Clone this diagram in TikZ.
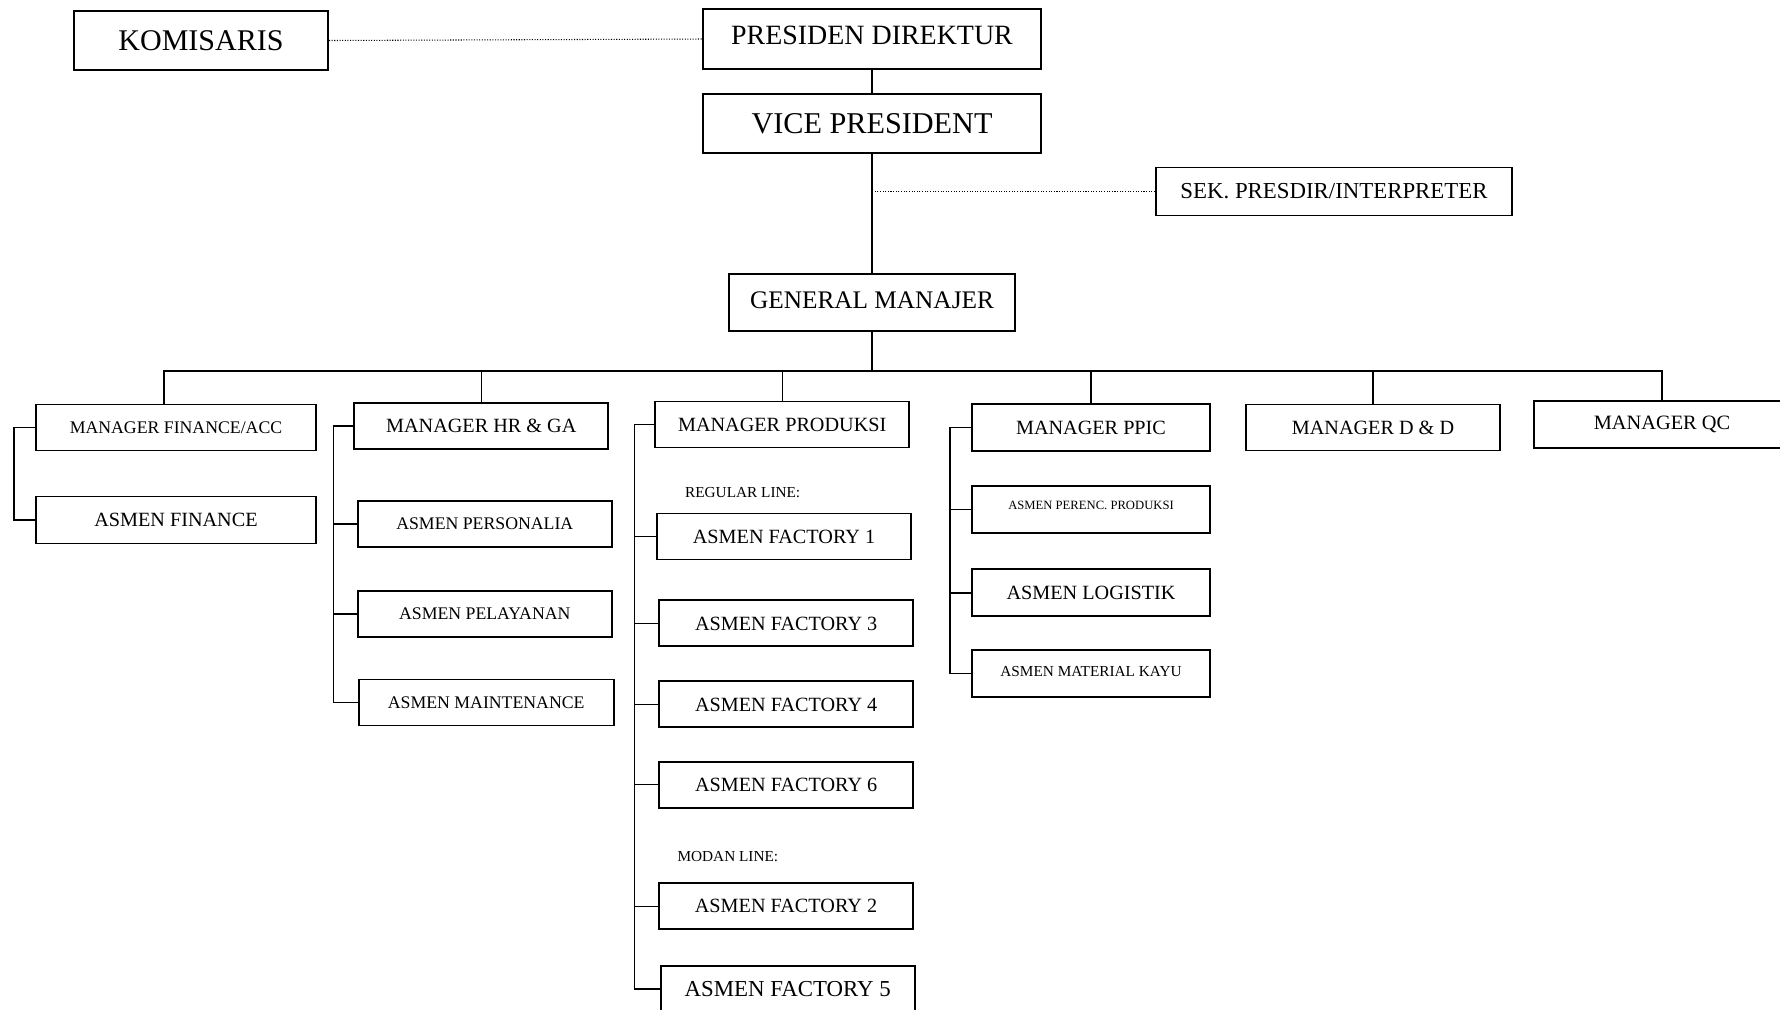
\documentclass[tikz,border=0pt]{standalone}
\usepackage{fontspec}
\setmainfont{Liberation Serif}
\usetikzlibrary{positioning, calc}

\begin{document}
\begin{tikzpicture}[
    x=0.02cm, y=-0.02cm,
    orgblk/.style 2 args={draw, rectangle, line width=1.1pt, inner sep=0pt,
                   minimum width=#1*0.02cm, minimum height=#2*0.02cm},
    fs/.style={font=\fontsize{#1}{#1}\selectfont},
    txtup/.style={text depth=#1*0.04cm},
    lnk/.style={line width=0.75pt},
    dotlnk/.style={line width=0.6pt, dash pattern=on 0.6pt off 0.9pt},
    lbl/.style={anchor=west, inner sep=0pt, font=\fontsize{8.7}{9}\selectfont}
  ]
    \useasboundingbox (0,0) rectangle (1780,1009);
    \clip (0,0) rectangle (1780,1009);

    % top levels
    \node[orgblk={254}{59}, fs=17.1] (kom)  at (201,40.5)   {KOMISARIS};
    \node[orgblk={338}{60}, fs=15.9, txtup=3.5] (pres) at (872,39) {PRESIDEN DIREKTUR};
    \node[orgblk={338}{59}, fs=17.2] (vp)   at (872,123.5)  {VICE PRESIDENT};
    \node[orgblk={356}{48}, fs=13]   (sek)  at (1334,191.5) {SEK. PRESDIR/INTERPRETER};
    \node[orgblk={286}{57}, fs=14.4, txtup=2.3] (gm) at (872,302.3) {GENERAL MANAJER};

    % managers
    \node[orgblk={280}{46}, fs=10.1] (mfin)  at (176,427.5)  {MANAGER FINANCE/ACC};
    \node[orgblk={254}{46}, fs=11.5] (mhr)   at (481.3,426)  {MANAGER HR \& GA};
    \node[orgblk={254}{46}, fs=11.5] (mprod) at (782.2,424.5) {MANAGER PRODUKSI};
    \node[orgblk={238}{47}, fs=11.5] (mppic) at (1091,427.7) {MANAGER PPIC};
    \node[orgblk={254}{46}, fs=11.5] (mdd)   at (1373,427.5) {MANAGER D \& D};
    \node[orgblk={256}{47}, fs=11.6] (mqc)   at (1662,424.3) {MANAGER QC};

    % asisten manajer
    \node[orgblk={280}{47}, fs=11.5] (afin)   at (176,520)     {ASMEN FINANCE};
    \node[orgblk={254}{46}, fs=10.1] (apers)  at (484.8,523.9) {ASMEN PERSONALIA};
    \node[orgblk={254}{46}, fs=10.1] (apel)   at (484.8,613.9) {ASMEN PELAYANAN};
    \node[orgblk={255}{46}, fs=10.1] (amaint) at (486.2,702.5) {ASMEN MAINTENANCE};

    \node[lbl] (reg) at (684.8,492.7) {REGULAR LINE:};
    \node[orgblk={254}{46}, fs=11.5] (af1) at (784,536.5)   {ASMEN FACTORY 1};
    \node[orgblk={254}{46}, fs=11.5] (af3) at (786.2,623.4) {ASMEN FACTORY 3};
    \node[orgblk={254}{46}, fs=11.5] (af4) at (786.2,704.4) {ASMEN FACTORY 4};
    \node[orgblk={254}{46}, fs=11.5] (af6) at (786.2,784.7) {ASMEN FACTORY 6};
    \node[lbl] (mod) at (677.2,856.7) {MODAN LINE:};
    \node[orgblk={254}{46}, fs=11.5] (af2) at (786,906.2)   {ASMEN FACTORY 2};
    \node[orgblk={254}{46}, fs=13]   (af5) at (787.7,989)   {ASMEN FACTORY 5};

    \node[orgblk={238}{47}, fs=7.2, txtup=4.5]  (aper) at (1091,509.3) {ASMEN PERENC. PRODUKSI};
    \node[orgblk={238}{47}, fs=11.5]            (alog) at (1091,592.9) {ASMEN LOGISTIK};
    \node[orgblk={238}{47}, fs=8.7, txtup=2.3]  (amat) at (1091,673.5) {ASMEN MATERIAL KAYU};

    % garis komando
    \draw[dotlnk] (kom.east) -- (pres.west);
    \draw[lnk] (pres.south) -- (vp.north);
    \draw[lnk] (vp.south) -- (gm.north);
    \draw[dotlnk] (sek.west) -- (sek.west -| vp.south);

    \coordinate (bus) at (872,371);
    \draw[lnk] (gm.south) -- (bus);
    \draw[lnk] ([xshift=-0.24cm]mfin.north) |- (mqc.north |- bus) -- (mqc.north);
    \foreach \m in {mhr,mprod,mppic,mdd}
      \draw[lnk] (\m.north) -- (\m.north |- bus);

    % brackets
    \draw[lnk] (mfin.west) -- ++(-21,0) |- (afin.west);

    \draw[lnk] (mhr.west) -- ++(-19.7,0) coordinate (hrb) |- (amaint.west);
    \foreach \a in {apers,apel}
      \draw[lnk] (\a.west) -- (\a.west -| hrb);

    \draw[lnk] (mprod.west) -- ++(-20,0) coordinate (prb) |- (af5.west);
    \foreach \a in {af1,af3,af4,af6,af2}
      \draw[lnk] (\a.west) -- (\a.west -| prb);

    \draw[lnk] (mppic.west) -- ++(-21,0) coordinate (ppb) |- (amat.west);
    \foreach \a in {aper,alog}
      \draw[lnk] (\a.west) -- (\a.west -| ppb);
  \end{tikzpicture}
\end{document}
